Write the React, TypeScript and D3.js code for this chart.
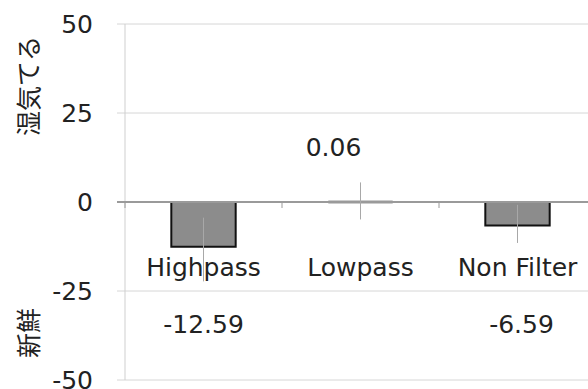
import React from "react";
import * as d3 from "d3";

const categories = ["Highpass", "Lowpass", "Non Filter"];
const values = [-12.59, 0.06, -6.59];
const valueLabels = ["-12.59", "0.06", "-6.59"];
const errorHigh = [-4.4, 5.5, -0.8];
const errorLow = [-22.3, -4.9, -11.5];
const yTicks = [50, 25, 0, -25, -50];
const yTitleTop = "湿気てる";
const yTitleBottom = "新鮮";

const W = 588;
const H = 389;
const FONT = "'DejaVu Sans', sans-serif";
const CJK = "'Noto Sans CJK JP', sans-serif";

export default function App() {
  const y = d3.scaleLinear().domain([-50, 50]).range([380, 24]);
  const x = d3
    .scaleBand<string>()
    .domain(categories)
    .range([125, 596])
    .paddingInner(0.59)
    .paddingOuter(0.295);
  const step = x.step();
  const bw = x.bandwidth();
  const y0 = y(0);
  const labelDx = [0, -27, 4];
  const labelY = (v: number) => (v < 0 ? y(-34.5) : y(15.2));

  return (
    <svg
      width={W}
      height={H}
      style={{ position: "absolute", left: 0, top: 0, background: "#fff" }}
      fontFamily={FONT}
    >
      {yTicks.map((t) =>
        t === 0 ? null : (
          <line
            key={"g" + t}
            x1={117}
            x2={W}
            y1={y(t)}
            y2={y(t)}
            stroke="#d6d6d6"
            strokeWidth={1}
          />
        )
      )}
      <line x1={125} x2={125} y1={y(50)} y2={y(-50)} stroke="#cfcfcf" strokeWidth={1} />
      {yTicks.map((t) => (
        <text
          key={"t" + t}
          x={93}
          y={y(t)}
          textAnchor="end"
          dominantBaseline="central"
          fontSize={25}
          fill="#222"
        >
          {t}
        </text>
      ))}
      {categories.map((c, i) => {
        const v = values[i];
        const bx = x(c)!;
        const top = Math.min(y(v), y0);
        const h = Math.abs(y(v) - y0);
        if (h < 2) {
          return (
            <line
              key={"b" + c}
              x1={bx}
              x2={bx + bw}
              y1={y0}
              y2={y0}
              stroke="#9a9a9a"
              strokeWidth={3}
            />
          );
        }
        return (
          <g key={"b" + c}>
            <rect x={bx} y={top} width={bw} height={h} fill="#8c8c8c" />
            <path
              d={`M${bx},${y0}V${y(v)}H${bx + bw}V${y0}`}
              fill="none"
              stroke="#111"
              strokeWidth={2}
            />
          </g>
        );
      })}
      <line x1={117} x2={W} y1={y0} y2={y0} stroke="#9a9a9a" strokeWidth={2} />
      {d3.range(categories.length + 1).map((k) => (
        <line
          key={"ct" + k}
          x1={125 + k * step}
          x2={125 + k * step}
          y1={y0}
          y2={y0 + 6}
          stroke="#9a9a9a"
          strokeWidth={1}
        />
      ))}
      {categories.map((c) => (
        <text
          key={"c" + c}
          x={x(c)! + bw / 2}
          y={267}
          textAnchor="middle"
          dominantBaseline="central"
          fontSize={25}
          fill="#222"
        >
          {c}
        </text>
      ))}
      {categories.map((c, i) => {
        const cx = x(c)! + bw / 2;
        return (
          <line
            key={"e" + c}
            x1={cx}
            x2={cx}
            y1={y(errorHigh[i])}
            y2={y(errorLow[i])}
            stroke="#a8a8a8"
            strokeWidth={1}
          />
        );
      })}
      {categories.map((c, i) => (
        <text
          key={"v" + c}
          x={x(c)! + bw / 2 + labelDx[i]}
          y={labelY(values[i])}
          textAnchor="middle"
          dominantBaseline="central"
          fontSize={25}
          fill="#222"
        >
          {valueLabels[i]}
        </text>
      ))}
      <text
        transform={`translate(27,86) rotate(-90)`}
        textAnchor="middle"
        dominantBaseline="central"
        fontSize={25}
        fontFamily={CJK}
        fill="#222"
      >
        {yTitleTop}
      </text>
      <text
        transform={`translate(27,333) rotate(-90)`}
        textAnchor="middle"
        dominantBaseline="central"
        fontSize={25}
        fontFamily={CJK}
        fill="#222"
      >
        {yTitleBottom}
      </text>
    </svg>
  );
}
